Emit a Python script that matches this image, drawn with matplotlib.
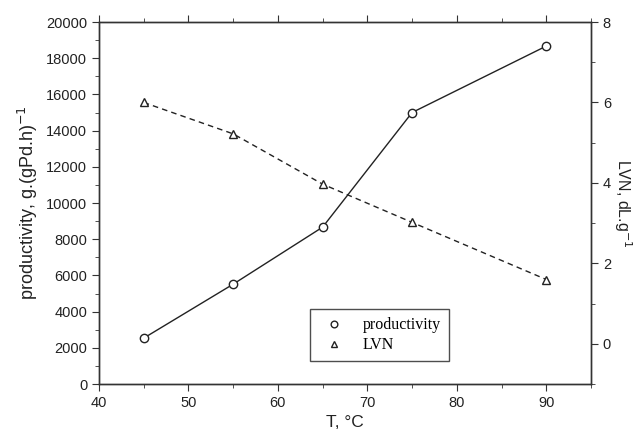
import numpy as np
import matplotlib.pyplot as plt
from matplotlib.ticker import MultipleLocator

# data
T = [45, 55, 65, 75, 90]
productivity = [2540, 5520, 8670, 15000, 18670]
lvn = [6.0, 5.22, 3.97, 3.02, 1.6]

plt.rcParams['font.family'] = ['Liberation Sans', 'DejaVu Sans']
plt.rcParams['font.size'] = 10.5

fig = plt.figure(figsize=(6.44, 4.4), dpi=100)
ax = fig.add_axes([0.1537, 0.127, 0.7640, 0.823])
ax2 = ax.twinx()

l1, = ax.plot(T, productivity, color='#222222', lw=1.0, marker='o', ms=6,
              mfc='white', mec='#222222', mew=1.0, label='productivity')
l2, = ax2.plot(T, lvn, color='#222222', lw=1.0, ls=(0, (4, 3)), marker='^', ms=6,
               mfc='white', mec='#222222', mew=1.0, label='LVN')

ax.set_xlim(40, 95)
ax.set_ylim(0, 20000)
ax2.set_ylim(-1, 8)

ax.xaxis.set_major_locator(MultipleLocator(10))
ax.xaxis.set_minor_locator(MultipleLocator(5))
ax.yaxis.set_major_locator(MultipleLocator(2000))
ax.yaxis.set_minor_locator(MultipleLocator(1000))
ax2.yaxis.set_major_locator(MultipleLocator(2))
ax2.yaxis.set_minor_locator(MultipleLocator(1))

ax.tick_params(axis='x', which='both', direction='out', top=True, color='#333333')
ax.tick_params(axis='y', which='both', direction='out', color='#333333')
ax.tick_params(which='major', length=5, labelcolor='#222222')
ax.tick_params(which='minor', length=3)
ax2.tick_params(which='both', direction='out', color='#333333')
ax2.tick_params(which='major', length=5, labelcolor='#222222')
ax2.tick_params(which='minor', length=3)
for a in (ax, ax2):
    for s in a.spines.values():
        s.set_color('#333333')
        s.set_linewidth(1.0)

ax.set_xlabel('T, °C', fontsize=12.5, color='#222222')
ax.set_ylabel('productivity, g.(gPd.h)$^{-1}$', fontsize=13, color='#222222')
ax2.set_ylabel('LVN, dL.g$^{-1}$', fontsize=11.5, rotation=270, labelpad=16,
               color='#222222')

leg = ax.legend(handles=[l1, l2], labels=['productivity', 'LVN'],
                loc='lower left', bbox_to_anchor=(0.429, 0.0635),
                borderaxespad=0,
                prop={'family': 'Liberation Serif', 'size': 11.5},
                frameon=True, fancybox=False, edgecolor='#222222',
                handlelength=2.0, borderpad=0.5, labelspacing=0.25,
                markerscale=0.8)
for h in leg.legend_handles:
    h.set_linestyle('none')
leg.get_frame().set_linewidth(1.0)

fig.savefig('out.png', dpi=100)
